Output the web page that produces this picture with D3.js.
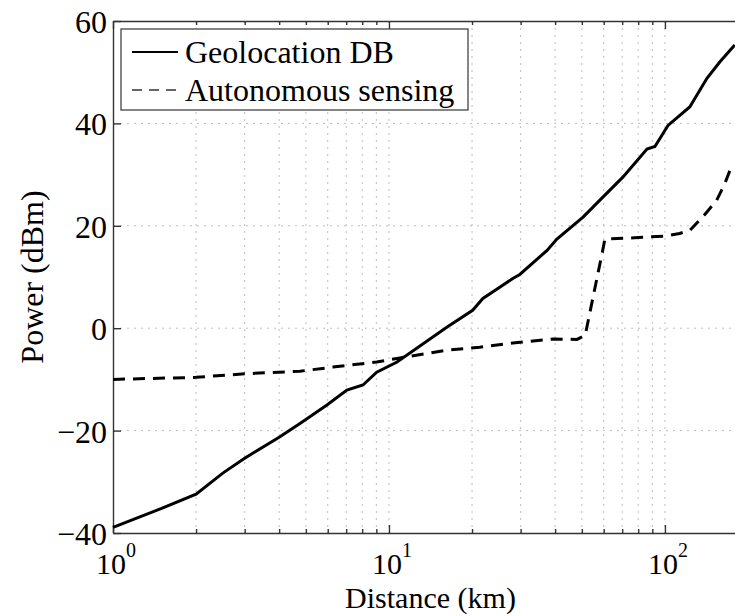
<!DOCTYPE html>
<html>
<head>
<meta charset="utf-8">
<script src="https://cdn.jsdelivr.net/npm/d3@7/dist/d3.min.js"></script>
<style>
  html, body { margin: 0; padding: 0; background: #fff; }
  svg { display: block; font-family: "Liberation Serif", "Times New Roman", "DejaVu Serif", serif; }
  .grid line { stroke: #bdbdbd; stroke-width: 1; stroke-dasharray: 2,5; }
  .axis path, .axis line { stroke: #333; stroke-width: 1.4; }
</style>
</head>
<body>
<div id="chart"></div>
<script>
// Power needed vs. distance, log x axis (km), two strategies.
const geoDist  = [1, 1.5, 2, 2.5, 3, 4, 4.76, 5.96, 7.04, 8.05, 9.03, 10.7, 16.2, 20.1, 21.9, 25.2, 28.1, 29.8, 37.4, 40.6, 50.5, 60.6, 70.4, 86.1, 92, 102.6, 123, 142, 158, 179];
const geoPower = [-38.9, -35.2, -32.4, -28.3, -25.4, -21.3, -18.6, -15.0, -12.1, -11.1, -8.6, -6.6, 0.2, 3.5, 5.8, 8.0, 9.7, 10.5, 15.2, 17.4, 21.7, 26.0, 29.5, 35.0, 35.5, 39.6, 43.2, 48.8, 52.0, 55.3];

const senseDist  = [1, 2, 3, 4.76, 6.27, 9.03, 10.7, 16.2, 21.3, 28.1, 39.4, 48, 51.4, 59.5, 60.6, 80, 100, 113, 123, 137, 154, 165, 176];
const sensePower = [-10, -9.6, -8.9, -8.4, -7.6, -6.6, -5.9, -4.3, -3.7, -2.9, -2.1, -2.2, -1.4, 15.2, 17.4, 17.7, 18.0, 18.5, 19.1, 21.7, 25, 28.3, 32.2];

const seriesNames = ["Geolocation DB", "Autonomous sensing"];
const yTicks = [-40, -20, 0, 20, 40, 60];
const xMajor = [1, 10, 100];
const xMinor = [2, 3, 4, 5, 6, 7, 8, 9, 20, 30, 40, 50, 60, 70, 80, 90, 200];

const W = 735, H = 616;
const pL = 113, pT = 21, pB = 533, pR = 748; // right edge is cropped by the page
const x = d3.scaleLog([1, 200], [pL, pR]);
const y = d3.scaleLinear([-40, 60], [pB, pT]);

const svg = d3.select("#chart").append("svg")
  .attr("width", W).attr("height", H)
  .attr("viewBox", `0 0 ${W} ${H}`);

// dotted grid
const grid = svg.append("g").attr("class", "grid");
grid.selectAll("line.v").data(xMajor.concat(xMinor).filter((d) => d > 1)).join("line")
  .attr("class", "v")
  .attr("x1", (d) => x(d)).attr("x2", (d) => x(d))
  .attr("y1", pT).attr("y2", pB);
grid.selectAll("line.h").data(yTicks.filter((d) => d > -40 && d < 60)).join("line")
  .attr("class", "h")
  .attr("x1", pL).attr("x2", pR)
  .attr("y1", (d) => y(d)).attr("y2", (d) => y(d));

// axes, ticks pointing inwards
const fmtNone = () => "";
svg.append("g").attr("class", "axis").attr("transform", `translate(0,${pB})`)
  .call(d3.axisBottom(x).tickValues(xMajor).tickSize(-8).tickSizeOuter(0).tickFormat(fmtNone));
svg.append("g").attr("class", "axis").attr("transform", `translate(0,${pB})`)
  .call(d3.axisBottom(x).tickValues(xMinor).tickSize(-4).tickSizeOuter(0).tickFormat(fmtNone))
  .select(".domain").remove();
svg.append("g").attr("class", "axis").attr("transform", `translate(0,${pT})`)
  .call(d3.axisTop(x).tickValues(xMajor).tickSize(-8).tickSizeOuter(0).tickFormat(fmtNone));
svg.append("g").attr("class", "axis").attr("transform", `translate(0,${pT})`)
  .call(d3.axisTop(x).tickValues(xMinor).tickSize(-4).tickSizeOuter(0).tickFormat(fmtNone))
  .select(".domain").remove();
svg.append("g").attr("class", "axis").attr("transform", `translate(${pL},0)`)
  .call(d3.axisLeft(y).tickValues(yTicks).tickSize(-8).tickSizeOuter(0).tickFormat(fmtNone));

// y tick labels
svg.append("g").selectAll("text").data(yTicks).join("text")
  .attr("x", pL - 6).attr("y", (d) => y(d) + 12)
  .attr("text-anchor", "end").attr("font-size", 32)
  .text((d) => (d < 0 ? "\u2212" + Math.abs(d) : d));

// x tick labels 10^n
const xl = svg.append("g").selectAll("text").data(xMajor).join("text")
  .attr("x", (d) => x(d) + 3).attr("y", 574)
  .attr("text-anchor", "middle").attr("font-size", 30);
xl.append("tspan").text("10");
xl.append("tspan").attr("font-size", 20).attr("dy", -17).text((d) => Math.round(Math.log10(d)));

// axis titles
svg.append("text").attr("x", (pL + pR) / 2).attr("y", 608)
  .attr("text-anchor", "middle").attr("font-size", 30).text("Distance (km)");
svg.append("text").attr("transform", `translate(43,${(pT + pB) / 2}) rotate(-90)`)
  .attr("text-anchor", "middle").attr("font-size", 32).text("Power (dBm)");

// series
const line = d3.line().x((d) => x(d[0])).y((d) => y(d[1]));
svg.append("path").datum(d3.zip(geoDist, geoPower))
  .attr("d", line).attr("fill", "none").attr("stroke", "#000").attr("stroke-width", 3);
svg.append("path").datum(d3.zip(senseDist, sensePower))
  .attr("d", line).attr("fill", "none").attr("stroke", "#000").attr("stroke-width", 3)
  .attr("stroke-dasharray", "12,8");

// legend
const lg = svg.append("g");
lg.append("rect").attr("x", 121).attr("y", 29).attr("width", 347).attr("height", 81)
  .attr("fill", "#fff").attr("stroke", "#444").attr("stroke-width", 1.3);
seriesNames.forEach((name, i) => {
  const ly = 52 + i * 38;
  lg.append("line").attr("x1", 132).attr("x2", 178).attr("y1", ly).attr("y2", ly)
    .attr("stroke", i ? "#666" : "#000").attr("stroke-width", 2)
    .attr("stroke-dasharray", i ? "10,7" : null);
  lg.append("text").attr("x", 185).attr("y", ly + 11).attr("font-size", 32).text(name);
});
</script>
</body>
</html>
